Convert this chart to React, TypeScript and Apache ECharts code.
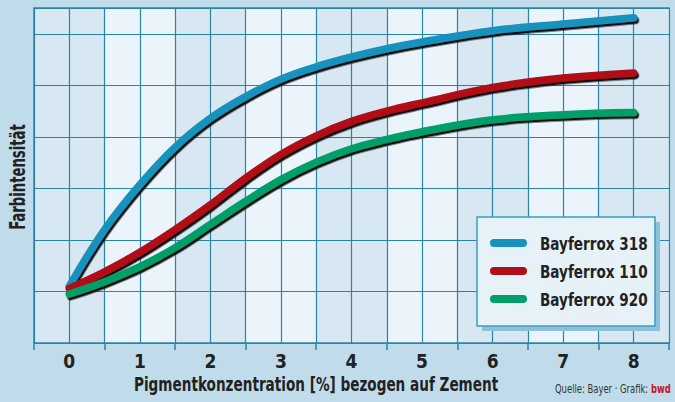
import React, { useEffect, useRef } from 'react';
import * as echarts from 'echarts';

const xValues = [0, 0.5, 1, 1.5, 2, 2.5, 3, 3.5, 4, 4.5, 5, 6, 7, 8];
const bayferrox318 = [1.1, 2.2, 3.07, 3.8, 4.36, 4.78, 5.12, 5.36, 5.55, 5.71, 5.84, 6.06, 6.19, 6.31];
const bayferrox110 = [1.06, 1.38, 1.76, 2.2, 2.68, 3.2, 3.66, 4.02, 4.3, 4.5, 4.66, 4.96, 5.14, 5.24];
const bayferrox920 = [0.95, 1.19, 1.48, 1.85, 2.3, 2.75, 3.17, 3.51, 3.77, 3.95, 4.1, 4.33, 4.43, 4.47];
const seriesNames = ['Bayferrox 318', 'Bayferrox 110', 'Bayferrox 920'];
const seriesColors = ['#1592bd', '#b10f19', '#009f6a'];
const xTickLabels = ['0', '1', '2', '3', '4', '5', '6', '7', '8'];
const xTitle = 'Pigmentkonzentration [%] bezogen auf Zement';
const yTitle = 'Farbintensität';
const creditText = 'Quelle: Bayer · Grafik: ';
const creditBrand = 'bwd';

const FONT = "'DejaVu Sans Condensed', 'Roboto', sans-serif";

// band-boundary / integer steps for the grid axis: -0.5, 0, 0.5, ... 8.5
const gridSteps: string[] = ['-0.5'];
xTickLabels.forEach((l) => {
  gridSteps.push(l);
  gridSteps.push(String(Number(l) + 0.5));
});

export default function App() {
  const ref = useRef<HTMLDivElement>(null);
  useEffect(() => {
    const chart = echarts.init(ref.current!, null, { renderer: 'svg' });
    const dataSets = [bayferrox318, bayferrox110, bayferrox920];
    const gridColor = '#2a84a8';

    const LX = 477;
    const LY = 217;
    const legendEls: any[] = [
      { type: 'rect', z: 100, shape: { x: LX + 5, y: LY + 5, width: 178, height: 109 }, style: { fill: '#8dc0d9' } },
      { type: 'rect', z: 101, shape: { x: LX, y: LY, width: 178, height: 109 }, style: { fill: '#e6f1f8', stroke: '#3d9cc2', lineWidth: 1.5 } },
    ];
    seriesNames.forEach((name, i) => {
      const cy = LY + 26 + 28 * i;
      legendEls.push({
        type: 'line',
        z: 102,
        shape: { x1: LX + 17, y1: cy, x2: LX + 46, y2: cy },
        style: { stroke: seriesColors[i], lineWidth: 8, lineCap: 'round' },
      });
      legendEls.push({
        type: 'text',
        z: 102,
        x: LX + 63,
        y: cy + 1,
        scaleX: 0.84,
        style: { text: name, font: `bold 18px ${FONT}`, fill: '#222', verticalAlign: 'middle' },
      });
    });

    chart.setOption({
      animation: false,
      backgroundColor: '#c0dcea',
      grid: { left: 34, right: 6, top: 8, bottom: 59, show: true, borderColor: gridColor, borderWidth: 1.5, backgroundColor: 'transparent' },
      xAxis: [
        {
          type: 'value',
          min: -0.5,
          max: 8.5,
          show: false,
        },
        {
          type: 'category',
          data: gridSteps,
          boundaryGap: false,
          position: 'bottom',
          z: 0,
          axisLine: { show: true, lineStyle: { color: gridColor, width: 1.5 } },
          axisTick: { show: true, length: 7, interval: (i: number) => i % 2 === 0, lineStyle: { color: gridColor, width: 1.5 } },
          axisLabel: {
            interval: (i: number) => i % 2 === 1,
            margin: 8,
            fontFamily: FONT,
            fontWeight: 'bold',
            fontSize: 19,
            color: '#222',
          },
          splitLine: { show: true, interval: 0, lineStyle: { color: gridColor, width: 1.2 } },
          splitArea: { show: true, interval: 1, areaStyle: { color: ['#d7e8f2', '#ebf4fa'] } },
        },
      ],
      yAxis: {
        type: 'value',
        min: 0,
        max: 6.5,
        interval: 1,
        z: 2,
        axisLine: { show: false },
        axisTick: { show: false },
        axisLabel: { show: false },
        splitLine: { show: true, lineStyle: { color: gridColor, width: 1.2 } },
      },
      series: seriesNames.map((name, si) => ({
        name,
        type: 'line',
        xAxisIndex: 0,
        data: xValues.map((x, i) => [x, dataSets[si][i]]),
        smooth: 0.4,
        symbol: 'none',
        z: 3 + si,
        color: seriesColors[si],
        lineStyle: {
          width: 7.5,
          color: seriesColors[si],
          cap: 'round',
          join: 'round',
          shadowColor: 'rgba(10,10,10,1)',
          shadowBlur: 0.5,
          shadowOffsetX: 1.5,
          shadowOffsetY: 2.5,
        },
      })),
      graphic: [
        ...legendEls,
        {
          type: 'text',
          x: 134,
          y: 374,
          scaleX: 0.756,
          style: { text: xTitle, font: `bold 20px ${FONT}`, fill: '#222' },
        },
        {
          type: 'text',
          x: 7,
          y: 177,
          rotation: Math.PI / 2,
          scaleX: 0.7,
          style: { text: yTitle, font: `bold 21px ${FONT}`, fill: '#222', align: 'center', verticalAlign: 'top' },
        },
        {
          type: 'text',
          x: 555,
          y: 383,
          scaleX: 0.78,
          style: {
            text: `{a|${creditText}}{b|${creditBrand}}`,
            rich: {
              a: { font: `12px ${FONT}`, fill: '#333' },
              b: { font: `bold 12px ${FONT}`, fill: '#c8101e' },
            },
          },
        },
      ],
    });
    return () => chart.dispose();
  }, []);
  return <div ref={ref} style={{ width: 675, height: 402, position: 'absolute', left: 0, top: 0 }} />;
}
